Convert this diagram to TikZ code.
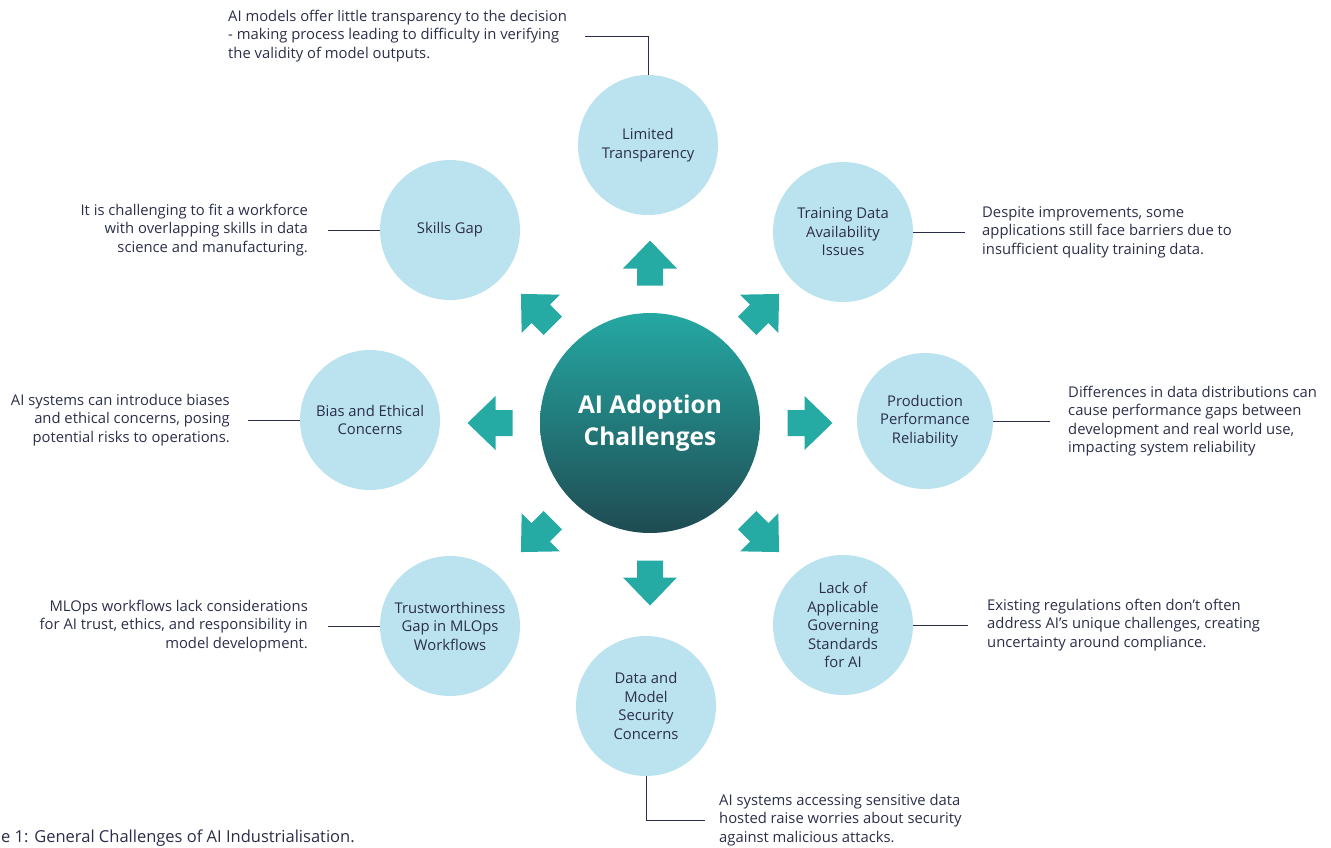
\documentclass[tikz,border=0pt]{standalone}
\usepackage{fontspec}
\setmainfont{Open Sans}
\definecolor{bubble}{HTML}{BAE3EF}
\definecolor{arrowcol}{HTML}{25ABA4}
\definecolor{txtcol}{HTML}{2B2E4A}
\definecolor{hubtop}{HTML}{25A8A3}
\definecolor{hubbot}{HTML}{1F4B52}
\begin{document}
\begin{tikzpicture}[x=1pt,y=-1pt,
	every node/.style={text=txtcol,font=\fontsize{14.8}{18.5}\selectfont},
	topic/.style={circle,fill=bubble,minimum size=140pt,inner sep=0pt,align=center},
	note/.style={inner sep=0pt,align=left},
	link/.style={draw=txtcol,line width=0.9pt}]
		\useasboundingbox (0,0) rectangle (1331,847);
		\node[circle,minimum size=220pt,top color=hubtop,bottom color=hubbot,align=center,text=white,font=\fontsize{24.5}{32}\selectfont\bfseries] (hub) at (650,423) {AI Adoption\\Challenges};
		\foreach \a in {0,45,...,315}
			\fill[arrowcol,shift={(hub.center)},rotate=\a] (137.5,-13)--(154.5,-13)--(154.5,-27)--(182.5,0)--(154.5,27)--(154.5,13)--(137.5,13)--cycle;
		\node[topic] (lt) at (648,145) {Limited\\Transparency};
		\node[topic] (td) at (843,232) {Training Data\\Availability\\Issues};
		\node[topic,minimum size=136pt] (pp) at (925,421) {Production\\Performance\\Reliability};
		\node[topic] (la) at (843,625) {Lack of\\Applicable\\Governing\\Standards\\for AI};
		\node[topic] (dm) at (646,706) {Data and\\Model\\Security\\Concerns};
		\node[topic] (tw) at (450,626) {Trustworthiness\\Gap in MLOps\\Workflows};
		\node[topic] (be) at (370,420) {Bias and Ethical\\Concerns};
		\node[topic] (sg) at (450,230) {Skills Gap};
		\node[note,anchor=west] (lttxt) at (228,36) {AI models offer little transparency to the decision\\- making process leading to difficulty in verifying\\the validity of model outputs.};
		\node[note,anchor=east,align=right] (sgtxt) at (308,230) {It is challenging to fit a workforce\\with overlapping skills in data\\science and manufacturing.};
		\node[note,anchor=west] (tdtxt) at (982,232) {Despite improvements, some\\applications still face barriers due to\\insufficient quality training data.};
		\node[note,anchor=east,align=right] (betxt) at (230,420) {AI systems can introduce biases\\and ethical concerns, posing\\potential risks to operations.};
		\node[note,anchor=west] (pptxt) at (1068,421) {Differences in data distributions can\\cause performance gaps between\\development and real world use,\\impacting system reliability};
		\node[note,anchor=east,align=right] (twtxt) at (308,626) {MLOps workflows lack considerations\\for AI trust, ethics, and responsibility in\\model development.};
		\node[note,anchor=west] (latxt) at (987,625) {Existing regulations often don’t often\\address AI’s unique challenges, creating\\uncertainty around compliance.};
		\node[note,anchor=west] (dmtxt) at (719,820) {AI systems accessing sensitive data\\hosted raise worries about security\\against malicious attacks.};
		\node[anchor=west,inner sep=0pt,font=\fontsize{16.5}{18}\selectfont] (cap) at (1,838) {e 1: General Challenges of AI Industrialisation.};
		\draw[link] ([xshift=18pt]lttxt.east) -| (lt.north);
		\draw[link] (sg.west) -- ([xshift=20pt]sgtxt.east);
		\draw[link] (td.east) -- ([xshift=-17pt]tdtxt.west);
		\draw[link] (be.west) -- ([xshift=18pt]betxt.east);
		\draw[link] (pp.east) -- ([xshift=-18pt]pptxt.west);
		\draw[link] (tw.west) -- ([xshift=20pt]twtxt.east);
		\draw[link] (la.east) -- ([xshift=-19pt]latxt.west);
		\draw[link] (dm.south) |- ([xshift=-14pt]dmtxt.west);
	\end{tikzpicture}
\end{document}
